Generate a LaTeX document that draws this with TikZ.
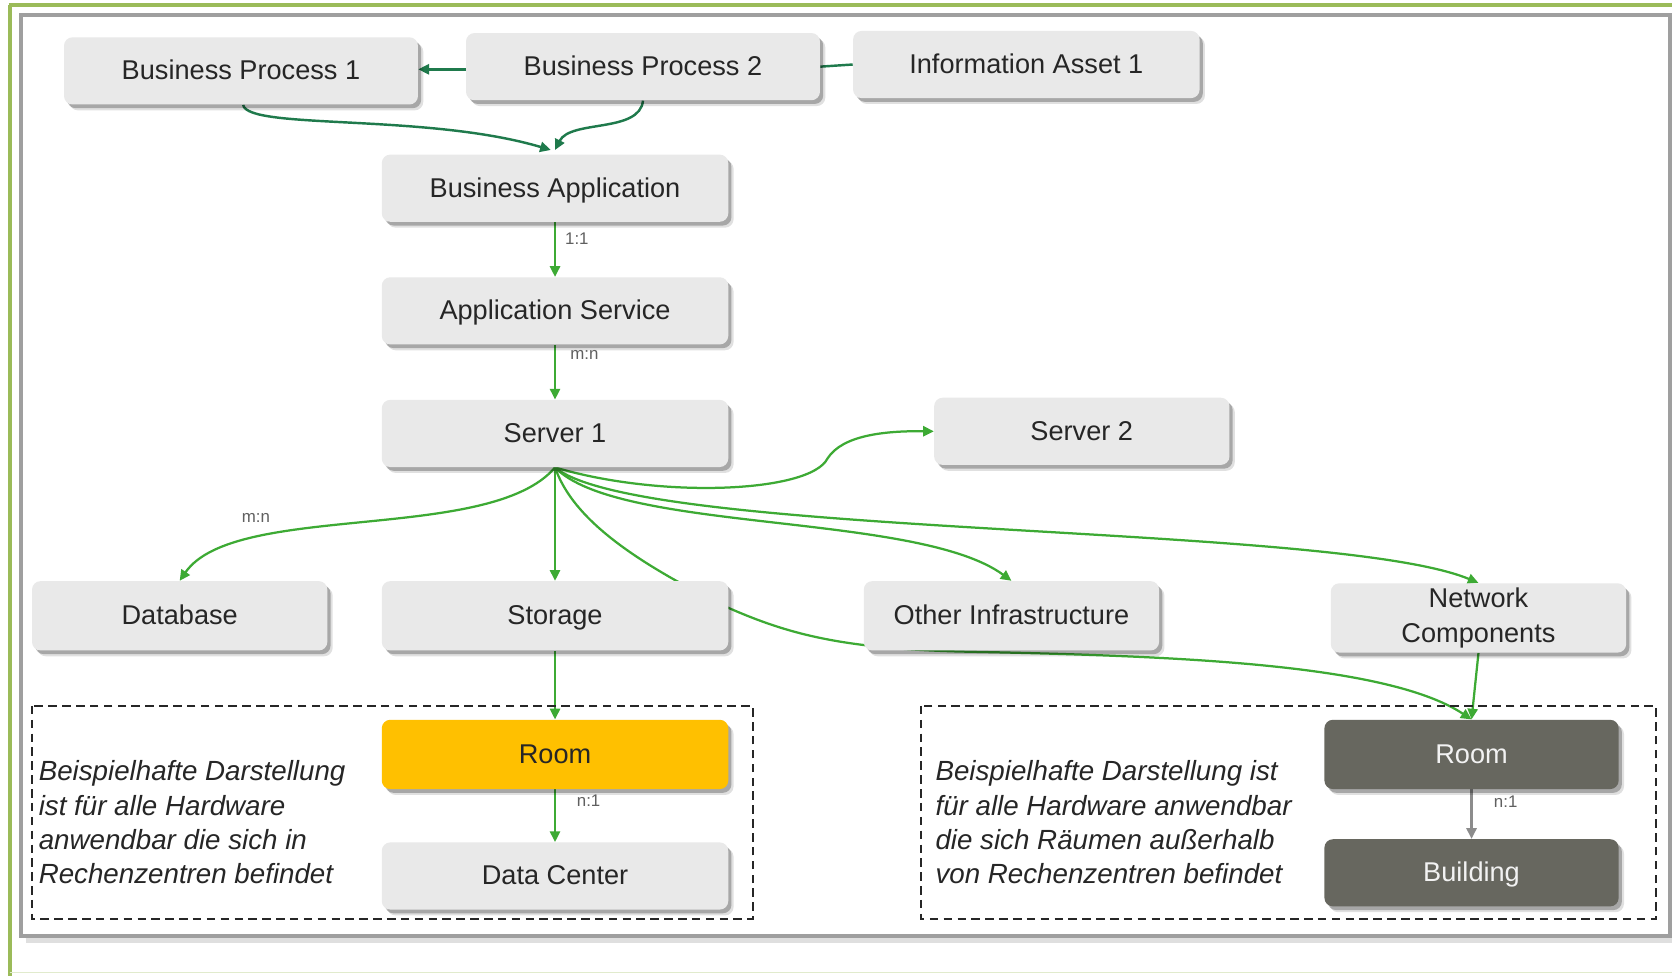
\documentclass[tikz,border=0pt]{standalone}
\usepackage{fontspec}
\setmainfont{Liberation Sans}
\usetikzlibrary{arrows.meta,shadows,calc}
\pgfdeclarelayer{bg}
\pgfsetlayers{bg,main}
\definecolor{grn}{HTML}{3DAA34}
\definecolor{dkgrn}{HTML}{1F7A4C}
\definecolor{framegrn}{HTML}{9BBB59}
\definecolor{boxfill}{HTML}{E9E9E9}
\definecolor{yel}{HTML}{FFC000}
\definecolor{dkbox}{HTML}{67675F}
\definecolor{gryarrow}{HTML}{8C8C8C}
\definecolor{txt}{HTML}{262626}
\begin{document}
\begin{tikzpicture}[x=0.02cm,y=-0.02cm,
  box/.style={rounded corners=0.16cm, fill=boxfill, draw=none,
    drop shadow={shadow xshift=0.1cm, shadow yshift=-0.11cm, fill=black, opacity=0.12},
    drop shadow={shadow xshift=0.06cm, shadow yshift=-0.07cm, fill=black, opacity=0.25},
    font=\fontsize{14.5}{18.2}\selectfont, text=txt, align=center, inner sep=0pt},
  one/.style={text height=12.5pt, text depth=3pt},
  wbox/.style={box, one, minimum width=6.5cm, minimum height=1.26cm},
  nbox/.style={box, minimum width=5.54cm, minimum height=1.3cm},
  conn/.style={draw=grn, line width=1.2pt},
  carrow/.style={conn, -{Triangle[length=0.2cm,width=0.19cm]}},
  dkline/.style={draw=dkgrn, line width=1.3pt},
  dkarrow/.style={dkline, -{Triangle[length=0.2cm,width=0.19cm]}},
  grarrow/.style={draw=gryarrow, line width=1.2pt, -{Triangle[length=0.2cm,width=0.19cm]}},
  lbl/.style={font=\fontsize{9}{10}\selectfont, text=gray!75!black, inner sep=0pt},
  note/.style={font=\fontsize{14.8}{18.2}\selectfont\itshape, text=txt, align=left, inner sep=0pt, anchor=west},
  dbox/.style={draw=black!85, line width=0.9pt, dash pattern=on 0.16cm off 0.1cm}
]
\useasboundingbox (0,0) rectangle (1568,915);
\begin{pgfonlayer}{bg}
\fill[white] (0,0) rectangle (1568,915);
\draw[framegrn, line width=2.2pt] (8,5) -- (1568,5);
\draw[framegrn, line width=2.2pt] (9,5) -- (9,915);
\draw[framegrn!30, line width=1pt] (9,912) -- (1568,912);
\draw[gray!25, line width=2.5pt] (24,882) -- (1568,882);
\draw[gray!75, line width=2pt] (20,14) rectangle (1566,878);
\end{pgfonlayer}

% dashed regions
\draw[dbox] (30,662) rectangle (706,862);
\draw[dbox] (864,662) rectangle (1553,862);

% nodes
\node[box, one, minimum width=6.64cm, minimum height=1.26cm] (bp1) at (226,66.5) {Business Process 1};
\node[box, one, minimum width=6.64cm, minimum height=1.26cm] (bp2) at (603,62.5) {Business Process 2};
\node[wbox] (ia1) at (962.5,60.5) {Information Asset 1};
\node[wbox] (ba) at (520.5,176.5) {Business Application};
\node[wbox] (as) at (520.5,291.5) {Application Service};
\node[wbox] (s1) at (520.5,406.5) {Server 1};
\node[nbox, one, minimum height=1.26cm] (s2) at (1014.5,404.5) {Server 2};
\node[nbox, one] (db) at (168.5,577.5) {Database};
\node[wbox, minimum height=1.3cm] (st) at (520.5,577.5) {Storage};
\node[nbox, one] (oi) at (948.5,577.5) {Other Infrastructure};
\node[nbox] (nc) at (1386.5,579.5) {Network\\Components};
\node[wbox, minimum height=1.3cm, fill=yel] (r1) at (520.5,707.5) {Room};
\node[wbox] (dc) at (520.5,821.5) {Data Center};
\node[box, one, minimum width=5.52cm, minimum height=1.3cm, fill=dkbox, text=white!95!black] (r2) at (1380,707.5) {Room};
\node[box, one, minimum width=5.52cm, minimum height=1.26cm, fill=dkbox, text=white!95!black] (bld) at (1380,818.5) {Building};

% notes
\node[note] (n1) at (36,771) {Beispielhafte Darstellung\\ist für alle Hardware\\anwendbar die sich in\\Rechenzentren befindet};
\node[note] (n2) at (877,771) {Beispielhafte Darstellung ist\\für alle Hardware anwendbar\\die sich Räumen außerhalb\\von Rechenzentren befindet};

% labels
\node[lbl] (l1) at (541,224) {1:1};
\node[lbl] (l2) at (548,333) {m:n};
\node[lbl] (l3) at (240,486) {m:n};
\node[lbl] (l4) at (552,751) {n:1};
\node[lbl] (l5) at (1412,752) {n:1};

% connectors
\begin{pgfonlayer}{bg}
\draw[dkarrow] ($(bp2.west)+(0,2.5)$) -- ($(bp1.east |- bp2.west)+(0,2.5)$);
\draw[dkline] (bp2.east) -- (ia1.west);
\draw[dkarrow] ($(bp1.south)+(2,0)$) .. controls (232,122) and (400,106) .. ($(ba.north)+(-4,-4)$);
\draw[dkarrow] (bp2.south) .. controls (600,125) and (535,112) .. ($(ba.north)+(0,-4)$);
\draw[carrow] (ba.south) -- (as.north);
\draw[carrow] (as.south) -- (s1.north);
% server 1 fan
\draw[carrow] (s1.south) .. controls (620,468) and (760,462) .. (776,430) .. controls (790,408) and (830,404) .. (s2.west);
\draw[carrow] (s1.south) .. controls (460,510) and (220,470) .. (db.north);
\draw[carrow] (s1.south) -- (st.north);
\draw[carrow] (s1.south) .. controls (580,500) and (860,480) .. (oi.north);
\draw[carrow] (s1.south) .. controls (600,505) and (1250,490) .. (nc.north);
\draw[carrow] (s1.south) .. controls (535,480) and (580,520) .. (683,570) .. controls (740,595) and (790,608) .. (900,611) .. controls (1100,615) and (1300,622) .. (r2.north);
\draw[carrow] (st.south) -- (r1.north);
\draw[carrow] (nc.south) -- (r2.north);
\draw[carrow] (r1.south) -- (dc.north);
\draw[grarrow] (r2.south) -- (bld.north);
\end{pgfonlayer}
\end{tikzpicture}
\end{document}
